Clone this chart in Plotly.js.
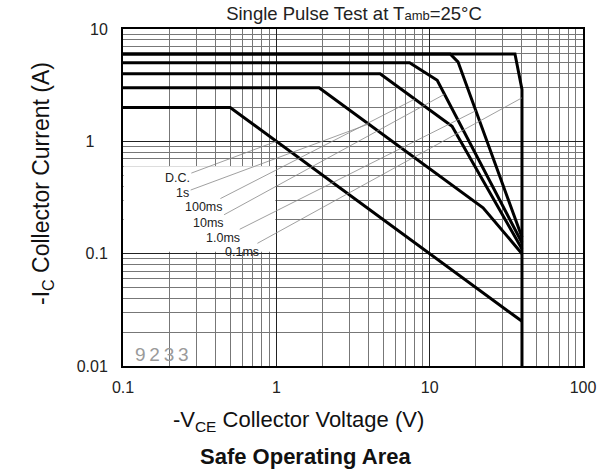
<!DOCTYPE html>
<html>
<head>
<meta charset="utf-8">
<script src="https://cdn.plot.ly/plotly-3.0.1.min.js"></script>
<style>html,body{margin:0;padding:0;background:#fff}#chart{width:601px;height:474px}</style>
</head>
<body>
<div id="chart"></div>
<script>
// ---- data ----
const pulseNames = ['0.1ms', '1.0ms', '10ms', '100ms', '1s', 'D.C.'];
const v_01ms  = [0.1, 36, 40, 40];
const i_01ms  = [6, 6, 2.9, 0.01];
const v_1ms   = [0.1, 13.6, 15.3, 40];
const i_1ms   = [6, 6, 5.1, 0.14];
const v_10ms  = [0.1, 7.4, 11.2, 40];
const i_10ms  = [5, 5, 3.5, 0.125];
const v_100ms = [0.1, 4.75, 14, 40];
const i_100ms = [4, 4, 1.36, 0.11];
const v_1s    = [0.1, 1.9, 22.3, 40];
const i_1s    = [3, 3, 0.256, 0.1];
const v_dc    = [0.1, 0.5, 40];
const i_dc    = [2, 2, 0.025];

const xTickVals = [0.1, 1, 10, 100];
const xTickText = ['0.1', '1', '10', '100'];
const yTickVals = [0.01, 0.1, 1, 10];
const yTickText = ['0.01', '0.1', '1\u00a0\u00a0\u00a0', '10'];

// voltage at which each label's leader line meets its curve
const leaderV = [40, 20, 12.5, 8, 4, 1];

const curvesV = [v_01ms, v_1ms, v_10ms, v_100ms, v_1s, v_dc];
const curvesI = [i_01ms, i_1ms, i_10ms, i_100ms, i_1s, i_dc];

function logInterp(vs, is, v) {
  for (let k = vs.length - 2; k >= 0; k--) {
    if (v >= vs[k] && v <= vs[k + 1] && vs[k + 1] > vs[k]) {
      const t = (Math.log10(v) - Math.log10(vs[k])) / (Math.log10(vs[k + 1]) - Math.log10(vs[k]));
      return Math.pow(10, Math.log10(is[k]) + t * (Math.log10(is[k + 1]) - Math.log10(is[k])));
    }
  }
  return is[is.length - 1];
}

const minorX = [];
const minorY = [];
[0.1, 1, 10].forEach(d => { for (let m = 2; m <= 9; m++) minorX.push(+(d * m).toPrecision(3)); });
[0.01, 0.1, 1].forEach(d => { for (let m = 2; m <= 9; m++) minorY.push(+(d * m).toPrecision(3)); });

const traces = curvesV.map((vs, k) => ({
  type: 'scatter', mode: 'lines', name: pulseNames[k],
  x: vs, y: curvesI[k],
  line: {color: '#000', width: 3},
  hoverinfo: 'skip', showlegend: false
}));

// label offsets (pixels) from curve point to label text
const labelOffsets = [[-280, 154], [-253, 127], [-236, 129], [-211, 108], [-186, 69], [-99, 37]];

const FONT = 'Liberation Sans, Arial, sans-serif';

const annotations = pulseNames.map((name, k) => {
  const v = leaderV[k];
  const i = (k === 0) ? 2.44 : logInterp(curvesV[k], curvesI[k], v);
  return {
    x: Math.log10(v), y: Math.log10(i), xref: 'x', yref: 'y',
    text: name, showarrow: true, arrowhead: 0, arrowwidth: 0.8, arrowcolor: '#888',
    ax: labelOffsets[k][0], ay: labelOffsets[k][1], standoff: 0, startstandoff: 0,
    font: {family: FONT, size: 12.5, color: '#222'}
  };
});

annotations.push({
  xref: 'paper', yref: 'paper', x: (42 - 123) / 460, y: (366 - 184) / 337,
  xanchor: 'center', yanchor: 'middle', showarrow: false, textangle: -90,
  text: '-I<sub>C</sub> Collector Current (A)',
  font: {family: FONT, size: 23, color: '#111'}
});
annotations.push({
  xref: 'paper', yref: 'paper', x: (298 - 123) / 460, y: -(421 - 366) / 337,
  xanchor: 'center', yanchor: 'middle', showarrow: false,
  text: '-V<sub>CE</sub> Collector Voltage (V)',
  font: {family: FONT, size: 22, color: '#111'}
});
annotations.push({
  xref: 'paper', yref: 'paper', x: (305 - 123) / 460, y: -(456 - 366) / 337,
  xanchor: 'center', yanchor: 'middle', showarrow: false,
  text: '<b>Safe Operating Area</b>',
  font: {family: FONT, size: 22, color: '#111'}
});
annotations.push({
  xref: 'paper', yref: 'paper', x: (162 - 123) / 460, y: (366 - 354) / 337,
  xanchor: 'center', yanchor: 'middle', showarrow: false,
  text: '9\u20092\u20093\u20093',
  font: {family: 'Liberation Sans, Arial', size: 19, color: '#9a9a9a'}
});

const axisBase = {
  type: 'log', showline: true, linecolor: '#000', linewidth: 2, mirror: true,
  showgrid: true, gridcolor: '#222', gridwidth: 1, zeroline: false, ticks: '',
  tickfont: {family: FONT, size: 16, color: '#222'},
  tickmode: 'array'
};

const layout = {
  width: 601, height: 474,
  margin: {l: 123, r: 18, t: 29, b: 108},
  paper_bgcolor: '#fff', plot_bgcolor: '#fff',
  showlegend: false,
  title: {
    text: 'Single Pulse Test at T<span style="font-size:13px">amb</span>=25°C',
    x: (354 - 123) / 460, xref: 'paper', xanchor: 'center',
    y: 1 - 14 / 474, yref: 'container', yanchor: 'middle',
    font: {family: FONT, size: 18.5, color: '#222'}
  },
  xaxis: Object.assign({}, axisBase, {
    range: [-1, 2], tickvals: xTickVals, ticktext: xTickText, ticklabelstandoff: 6,
    minor: {tickvals: minorX, showgrid: true, gridcolor: '#777', gridwidth: 1, ticks: ''}
  }),
  yaxis: Object.assign({}, axisBase, {
    range: [-2, 1], tickvals: yTickVals, ticktext: yTickText, ticklabelstandoff: 10,
    minor: {tickvals: minorY, showgrid: true, gridcolor: '#777', gridwidth: 1, ticks: ''}
  }),
  shapes: [{
    type: 'rect', xref: 'x', yref: 'y', x0: 0.101, x1: 0.985, y0: 0.104, y1: 0.6,
    fillcolor: '#fff', line: {width: 0}, layer: 'between'
  }],
  annotations: annotations
};

Plotly.newPlot('chart', traces, layout, {displayModeBar: false, staticPlot: true});
</script>
</body>
</html>
